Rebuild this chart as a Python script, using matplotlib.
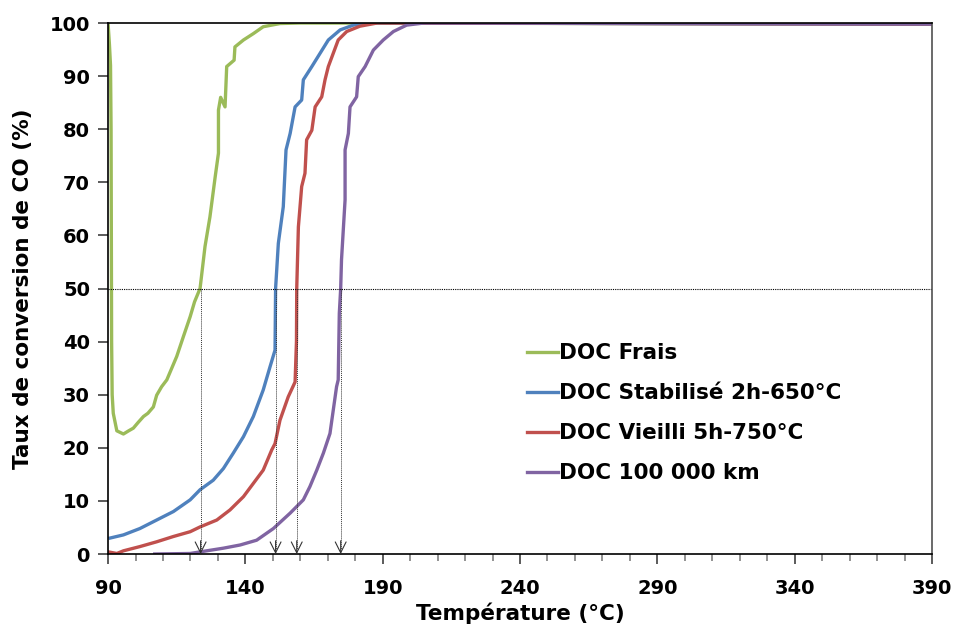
import matplotlib

matplotlib.use("Agg")
import matplotlib.pyplot as plt  # noqa: E402

# Conversion CO (%) vs temperature (°C)
frais_t = [90, 90.5, 90.9, 91.1, 91.2, 91.3, 91.5, 91.9, 93.2, 95.6, 97.5, 99.2, 101, 102.9, 104.5,
           106.5, 107.7, 109.5, 111.4, 113.2, 115, 117.4, 119.9, 121.5, 123.5, 125.3, 127.1, 129,
           130.2, 130.2, 131, 132.6, 133.2, 135.9, 136.2, 139.3, 142.9, 146.5, 152.6, 160, 390]
frais_x = [100, 96, 92, 80, 60, 40, 30, 26.5, 23.2, 22.6, 23.2, 23.7, 24.8, 25.9, 26.5,
           27.7, 29.9, 31.5, 32.8, 35, 37.2, 40.9, 44.7, 47.5, 50, 57.9, 63.5, 71,
           75.5, 83.6, 86, 84.2, 91.8, 93, 95.5, 96.8, 98, 99.3, 99.9, 100, 99.8]

stab_t = [90.7, 95.6, 101.6, 107.7, 113.8, 119.9, 123.5, 128.3, 132, 135.6, 139.3, 142.9, 146.5,
          149, 150.8, 151, 152, 153.8, 154.8, 156.3, 158.1, 160.5, 161.1, 164.2, 167.2, 170.2,
          174.5, 179.3, 185, 390]
stab_x = [3, 3.6, 4.8, 6.4, 8, 10.2, 12.1, 13.9, 16.1, 19, 22.1, 25.9, 30.9,
          35.3, 38.4, 50, 58.5, 65.4, 76.1, 79.2, 84.2, 85.5, 89.3, 91.8, 94.3, 96.8,
          98.7, 99.6, 100, 99.8]

vieilli_t = [90.1, 93.2, 95.6, 101.6, 107.7, 113.8, 119.9, 123.5, 129.6, 134.4, 139.3, 142.9,
             146.5, 149.6, 150.8, 152.6, 155.6, 158.1, 158.6, 158.7, 159.3, 160.5, 161.7, 162.3,
             164.2, 165.4, 167.8, 169, 170.2, 172, 173.8, 176.9, 181.7, 188, 390]
vieilli_x = [0.4, 0.1, 0.6, 1.4, 2.3, 3.3, 4.2, 5.1, 6.4, 8.3, 10.8, 13.3,
             15.8, 19.6, 20.8, 25.2, 29.6, 32.4, 40, 50, 61.6, 69.2, 71.7, 78,
             79.8, 84.2, 86.1, 89.3, 91.8, 94.3, 96.8, 98.4, 99.4, 100, 99.8]

km_t = [107, 119.9, 125.9, 132, 138.1, 144.1, 150.2, 156.3, 161.1, 163.5, 166, 168.4, 170.8, 172,
        173.2, 173.8, 174.2, 174.7, 175, 176.3, 176.3, 177.5, 178.1, 180.5, 181.1, 183.6, 186.6,
        190.2, 193.9, 198.7, 205, 390]
km_x = [0, 0.1, 0.6, 1.1, 1.7, 2.6, 4.8, 7.7, 10.2, 12.7, 15.8, 19, 22.7, 27.1,
        31.5, 32.8, 45.3, 50, 55.4, 66.7, 76.1, 79.2, 84.2, 86.1, 89.9, 91.8, 94.9,
        96.8, 98.4, 99.6, 100, 99.8]

labels = ["DOC Frais", "DOC Stabilisé 2h-650°C", "DOC Vieilli 5h-750°C", "DOC 100 000 km"]
colors = ["#9BBB59", "#4F81BD", "#C0504D", "#8064A2"]
t50 = [123.7, 151.0, 158.7, 174.7]
x_major = [90, 140, 190, 240, 290, 340, 390]
x_minor = list(range(90, 391, 10))
y_major = list(range(0, 101, 10))

plt.rcParams["font.family"] = ["DejaVu Sans"]
plt.rcParams["font.weight"] = "bold"

fig = plt.figure(figsize=(9.57, 6.32), dpi=100)
ax = fig.add_axes([0.1129, 0.1234, 0.861, 0.8402])

series = [(frais_t, frais_x), (stab_t, stab_x), (vieilli_t, vieilli_x), (km_t, km_x)]
for (t, x), lab, col in zip(series, labels, colors):
    ax.plot(t, x, color=col, lw=2.4, label=lab, solid_joinstyle="round")

# T50 markers
ax.axhline(50, color="black", lw=0.8, ls=(0, (1, 1)))
for t in t50:
    ax.plot([t, t], [50, 1], color="#333333", lw=0.7, ls=(0, (1, 1)))
    ax.annotate("", xy=(t, 0), xytext=(t, 2.5),
                arrowprops=dict(arrowstyle="->,head_length=0.6,head_width=0.3", color="#333333",
                                lw=0.8, mutation_scale=13, shrinkA=0, shrinkB=0))

ax.set_xlim(90, 390)
ax.set_ylim(0, 100)
ax.set_xticks(x_major)
ax.set_xticks(x_minor, minor=True)
ax.set_yticks(y_major)
ax.tick_params(axis="both", which="major", direction="out", length=7, width=1.2,
               labelsize=14, pad=6, color="#404040")
ax.tick_params(axis="x", which="minor", direction="out", length=5, width=1.2, color="#808080")
ax.tick_params(axis="x", which="major", pad=11)
for s in ax.spines.values():
    s.set_color("black")
    s.set_linewidth(1.2)
ax.spines["right"].set_color("#505050")

ax.set_xlabel("Température (°C)", fontsize=15.5, fontweight="bold", labelpad=3)
ax.set_ylabel("Taux de conversion de CO (%)", fontsize=15.5, fontweight="bold", labelpad=12)

ax.legend(loc="upper left", bbox_to_anchor=(0.508, 0.397), frameon=False, fontsize=15.5,
          handlelength=1.45, handletextpad=0.05, labelspacing=0.93, borderpad=0, borderaxespad=0)

fig.savefig("out.png", dpi=100)
